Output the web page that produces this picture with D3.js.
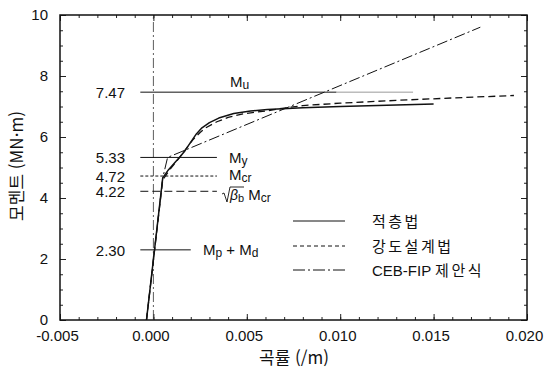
<html lang="ko">
<head>
<meta charset="utf-8">
<title>모멘트-곡률</title>
<script src="https://cdn.jsdelivr.net/npm/d3@7"></script>
<style>
  body { margin: 0; background: #fff; }
  text { font-family: "Liberation Sans", Arial, "Noto Sans CJK KR", sans-serif; fill: #111; }
  .kr { font-family: "Noto Sans CJK KR", sans-serif; }
</style>
</head>
<body>
<script>
// curves: [curvature (/m), moment (MN·m)]
var laminar = [[-0.00037,0],[0.0005,4.66],[0.0008,4.92],[0.0012,5.2],[0.00144,5.36],[0.0017,5.56],
  [0.002,5.83],[0.0023,6.1],[0.0026,6.3],[0.003,6.47],[0.0035,6.62],[0.0043,6.77],[0.0052,6.85],
  [0.0061,6.9],[0.008,6.96],[0.01,7.0],[0.013,7.05],[0.015,7.08]];
var strength = [[-0.00037,0],[0.0005,4.6],[0.0009,4.95],[0.0013,5.25],[0.0017,5.57],[0.0021,5.9],
  [0.0025,6.15],[0.0028,6.3],[0.0034,6.5],[0.004,6.64],[0.0048,6.76],[0.0061,6.86],[0.007,6.95],
  [0.008,7.03],[0.01,7.11],[0.013,7.2],[0.016,7.28],[0.0193,7.36]];
var cebfip = [[-0.00037,0],[0.0005,4.66],[0.00076,5.33],[0.0175,9.6]];

var refValues = [7.47, 5.33, 4.72, 4.22, 2.30];
var refLabels = ["7.47", "5.33", "4.72", "4.22", "2.30"];
var refEnds = [0.0139, 0.0034, 0.0034, 0.0034, 0.002];
var refDash = [null, null, "3,2", "8,4", null];

var legendLatin = ["", "", "CEB-FIP "];
var legendKr = ["적층법", "강도설계법", "제안식"];
var xTicks = [-0.005, 0.000, 0.005, 0.010, 0.015, 0.020];
var xTickLabels = ["-0.005", "0.000", "0.005", "0.010", "0.015", "0.020"];
var yTicks = [0, 2, 4, 6, 8, 10];

var w = 544, h = 376;
var svg = d3.select("body").append("svg").attr("width", w).attr("height", h);

var x = d3.scaleLinear().domain([-0.005, 0.020]).range([60, 527]);
var y = d3.scaleLinear().domain([0, 10]).range([320, 15]);

var axisG = svg.append("g");

function minor(step, dom) {
  return d3.range(dom[0], dom[1] + step / 2, step);
}

// major + minor ticks, inward, on all sides
var xAx = axisG.append("g").attr("transform", "translate(0,320)")
  .call(d3.axisBottom(x).tickValues(xTicks)
    .tickFormat(function(d, i) { return xTickLabels[i]; }).tickSize(-6).tickPadding(10));
xAx.selectAll("text").attr("dx", -3);
axisG.append("g").attr("transform", "translate(0,320)")
  .call(d3.axisBottom(x).tickValues(minor(0.001, x.domain())).tickFormat("").tickSize(-3));
axisG.append("g").attr("transform", "translate(0,15)")
  .call(d3.axisTop(x).tickValues(xTicks).tickFormat("").tickSize(-6));
axisG.append("g").attr("transform", "translate(0,15)")
  .call(d3.axisTop(x).tickValues(minor(0.001, x.domain())).tickFormat("").tickSize(-3));
axisG.append("g").attr("transform", "translate(60,0)")
  .call(d3.axisLeft(y).tickValues(yTicks).tickSize(-6).tickPadding(12));
axisG.append("g").attr("transform", "translate(60,0)")
  .call(d3.axisLeft(y).tickValues(minor(0.5, y.domain())).tickFormat("").tickSize(-3));
axisG.append("g").attr("transform", "translate(527,0)")
  .call(d3.axisRight(y).tickValues(yTicks).tickFormat("").tickSize(-6));
axisG.append("g").attr("transform", "translate(527,0)")
  .call(d3.axisRight(y).tickValues(minor(0.5, y.domain())).tickFormat("").tickSize(-3));
axisG.selectAll(".domain").remove();
axisG.selectAll("line").attr("stroke", "#222");
axisG.selectAll("text").attr("fill", "#111").attr("font-size", 15);

svg.append("rect").attr("x", 60).attr("y", 15).attr("width", 467).attr("height", 305)
  .attr("fill", "none").attr("stroke", "#111").attr("stroke-width", 1.5);

// x = 0 guide
svg.append("line").attr("x1", x(0)).attr("x2", x(0)).attr("y1", y(0)).attr("y2", y(10))
  .attr("stroke", "#333").attr("stroke-width", 0.8).attr("stroke-dasharray", "10,3,2,3");

// reference moment lines
refValues.forEach(function(v, i) {
  var ln = svg.append("line").attr("x1", x(-0.0007)).attr("x2", x(i === 0 ? 0.0098 : refEnds[i]))
    .attr("y1", y(v)).attr("y2", y(v)).attr("stroke", "#111").attr("stroke-width", 1);
  if (refDash[i]) ln.attr("stroke-dasharray", refDash[i]);
  svg.append("text").attr("x", 125).attr("y", y(v) + 6).attr("text-anchor", "end")
    .style("font-size", "15px").text(refLabels[i]);
});
svg.append("line").attr("x1", x(0.0098)).attr("x2", x(refEnds[0]))
  .attr("y1", y(refValues[0])).attr("y2", y(refValues[0])).attr("stroke", "#999").attr("stroke-width", 1);

// symbol labels
function sym(tx, ty, parts) {
  var t = svg.append("text").attr("x", tx).attr("y", ty).style("font-size", "15px");
  parts.forEach(function(p) {
    var s = t.append("tspan").text(p[0]);
    if (p[1]) s.attr("dy", p[1]);
    if (p[2]) s.style("font-size", p[2]);
  });
  return t;
}
sym(230, 87, [["M"], ["u", 2, "12px"]]);
sym(229, 163, [["M"], ["y", 2, "12px"]]);
sym(229, 180, [["M"], ["cr", 2, "12px"]]);
// sqrt(beta_b) Mcr
svg.append("path").attr("d", "M222,194 L224,193 L227,202 L230,187 L244,187")
  .attr("fill", "none").attr("stroke", "#111").attr("stroke-width", 0.9);
sym(230, 200, [["β", null, "14px"], ["b", 2, "11px"], [" M", -2, "15px"], ["cr", 2, "12px"]])
  .select("tspan").style("font-style", "italic");
sym(203, y(2.30) + 5, [["M"], ["p", 2, "12px"], [" + M", -2], ["d", 2, "12px"]]);

// curves
var line = d3.line().x(function(d) { return x(d[0]); }).y(function(d) { return y(d[1]); });
var styles = [
  { data: laminar, dash: null, width: 1.5 },
  { data: strength, dash: "7,4", width: 1.3 },
  { data: cebfip, dash: "11,3,2,3", width: 1 }
];
styles.forEach(function(s) {
  var p = svg.append("path").attr("d", line(s.data))
    .attr("fill", "none").attr("stroke", "#111").attr("stroke-width", s.width)
    .attr("stroke-linejoin", "round");
  if (s.dash) p.attr("stroke-dasharray", s.dash);
});

// legend
var legY = [221, 246, 270];
styles.forEach(function(s, i) {
  var l = svg.append("line").attr("x1", 293).attr("x2", 345).attr("y1", legY[i]).attr("y2", legY[i])
    .attr("stroke", "#111").attr("stroke-width", 1);
  if (s.dash) l.attr("stroke-dasharray", i === 1 ? "4,3" : "12,3,2,3");
  var t = svg.append("text").attr("x", 372).attr("y", legY[i] + 6).style("font-size", "15px");
  if (legendLatin[i]) t.append("tspan").text(legendLatin[i]);
  t.append("tspan").attr("class", "kr").style("letter-spacing", "2.5px").text(legendKr[i]);
});

// axis titles
svg.append("text").attr("class", "kr").attr("x", 294).attr("y", 364).attr("text-anchor", "middle")
  .style("font-size", "17px").text("곡률 (/m)");
svg.append("text").attr("class", "kr").attr("transform", "translate(23,166) rotate(-90)")
  .attr("text-anchor", "middle").style("font-size", "17px").text("모멘트 (MN·m)");
</script>
</body>
</html>
